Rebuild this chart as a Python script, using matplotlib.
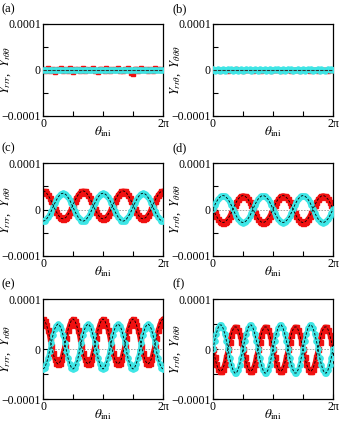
import numpy as np
import matplotlib.pyplot as plt

plt.rcParams['font.family'] = ['Liberation Serif', 'DejaVu Serif']
plt.rcParams['mathtext.fontset'] = 'stix'

# values in units of 1e-5, sampled every 5 degrees of theta_ini (73 points)
red_a = [0.2, -0.3, 0.1, 0.4, -0.2, 0.0, 0.3, -0.4, 0.1, 0.2, -0.1, 0.5, -0.3, 0.0, 0.2, -0.2, 0.4, 0.1, -0.5, 0.2,
         0.0, 0.3, -0.2, 0.1, 0.4, -0.3, 0.2, 0.0, -0.1, 0.3, 0.5, -0.2, 0.1, -0.4, 0.2, 0.3, 0.0, -0.3, 0.4, 0.1,
         -0.2, 0.2, 0.0, 0.3, -0.1, 0.4, -0.2, 0.1, -0.3, 0.2, 0.0, 0.5, -0.1, -0.6, -0.8, 0.2, 0.3, -0.2, 0.1, 0.4,
         -0.1, 0.0, 0.3, -0.3, 0.2, 0.1, -0.2, 0.4, 0.0, 0.2, -0.1, 0.3, 0.1]
cyan_a = [0.0, 0.1, 0.0, -0.1, 0.0, 0.1, 0.0, 0.0, -0.1, 0.0, 0.1, 0.0, 0.0, -0.1, 0.1, 0.0, 0.0, 0.1, -0.1, 0.0,
          0.0, 0.1, 0.0, -0.1, 0.0, 0.0, 0.1, 0.0, -0.1, 0.0, 0.1, 0.0, 0.0, -0.1, 0.0, 0.1, 0.0, 0.0, 0.1, -0.1,
          0.0, 0.0, 0.1, 0.0, -0.1, 0.0, 0.1, 0.0, 0.0, -0.1, 0.0, 0.1, 0.0, 0.0, -0.1, 0.1, 0.0, 0.0, 0.1, -0.1,
          0.0, 0.0, 0.1, 0.0, -0.1, 0.0, 0.1, 0.0, 0.0, -0.1, 0.0, 0.1, 0.0]
red_b = [0.0, -0.1, 0.1, 0.0, -0.2, 0.1, 0.0, -0.1, 0.1, -0.2, 0.0, 0.1, -0.1, 0.0, 0.2, -0.1, 0.0, 0.1, -0.2, 0.0,
         0.1, -0.1, 0.0, 0.1, -0.2, 0.0, 0.1, -0.1, 0.0, -0.2, 0.1, 0.0, -0.1, 0.1, 0.0, -0.2, 0.1, 0.0, -0.1, 0.0,
         0.1, -0.2, 0.0, 0.1, -0.1, 0.0, 0.1, -0.2, 0.0, -0.1, 0.1, 0.0, -0.2, 0.0, 0.1, -0.1, 0.0, 0.1, -0.2, 0.0,
         0.1, -0.1, 0.0, -0.2, 0.1, 0.0, -0.1, 0.1, 0.0, -0.2, 0.0, 0.1, 0.0]
cyan_b = [0.2, -0.3, 0.1, 0.3, -0.2, 0.0, 0.2, -0.3, 0.1, 0.3, -0.1, 0.2, -0.2, 0.0, 0.3, -0.3, 0.1, 0.2, -0.2, 0.0,
          0.3, -0.1, 0.2, -0.3, 0.0, 0.2, 0.1, -0.2, 0.3, -0.1, 0.0, 0.2, -0.3, 0.1, 0.3, -0.2, 0.0, 0.2, -0.1, 0.3,
          -0.3, 0.1, 0.2, -0.2, 0.0, 0.3, -0.1, 0.2, -0.3, 0.1, 0.0, 0.3, -0.2, 0.1, 0.2, -0.3, 0.0, 0.2, -0.1, 0.3,
          -0.2, 0.1, 0.0, 0.3, -0.3, 0.2, 0.1, -0.2, 0.0, 0.3, -0.1, 0.2, 0.1]
red_c = [4.0, 3.9, 3.6, 3.1, 2.5, 1.8, 1.0, 0.2, -0.5, -1.1, -1.6, -1.9, -2.0, -1.9, -1.6, -1.1, -0.5, 0.2, 1.0, 1.8,
         2.5, 3.1, 3.6, 3.9, 4.0, 3.9, 3.6, 3.1, 2.5, 1.8, 1.0, 0.2, -0.5, -1.1, -1.6, -1.9, -2.0, -1.9, -1.6, -1.1,
         -0.5, 0.2, 1.0, 1.8, 2.5, 3.1, 3.6, 3.9, 4.0, 3.9, 3.6, 3.1, 2.5, 1.8, 1.0, 0.2, -0.5, -1.1, -1.6, -1.9,
         -2.0, -1.9, -1.6, -1.1, -0.5, 0.2, 1.0, 1.8, 2.5, 3.1, 3.6, 3.9, 4.0]
cyan_c = [-2.5, -2.4, -2.1, -1.6, -1.0, -0.3, 0.5, 1.3, 2.0, 2.6, 3.1, 3.4, 3.5, 3.4, 3.1, 2.6, 2.0, 1.3, 0.5, -0.3,
          -1.0, -1.6, -2.1, -2.4, -2.5, -2.4, -2.1, -1.6, -1.0, -0.3, 0.5, 1.3, 2.0, 2.6, 3.1, 3.4, 3.5, 3.4, 3.1, 2.6,
          2.0, 1.3, 0.5, -0.3, -1.0, -1.6, -2.1, -2.4, -2.5, -2.4, -2.1, -1.6, -1.0, -0.3, 0.5, 1.3, 2.0, 2.6, 3.1, 3.4,
          3.5, 3.4, 3.1, 2.6, 2.0, 1.3, 0.5, -0.3, -1.0, -1.6, -2.1, -2.4, -2.5]
red_d = [0.1, -0.7, -1.4, -2.0, -2.4, -2.7, -2.8, -2.7, -2.4, -2.0, -1.4, -0.7, 0.1, 0.9, 1.6, 2.2, 2.6, 2.9, 3.0, 2.9,
         2.6, 2.2, 1.6, 0.9, 0.1, -0.7, -1.4, -2.0, -2.4, -2.7, -2.8, -2.7, -2.4, -2.0, -1.4, -0.7, 0.1, 0.9, 1.6, 2.2,
         2.6, 2.9, 3.0, 2.9, 2.6, 2.2, 1.6, 0.9, 0.1, -0.7, -1.4, -2.0, -2.4, -2.7, -2.8, -2.7, -2.4, -2.0, -1.4, -0.7,
         0.1, 0.9, 1.6, 2.2, 2.6, 2.9, 3.0, 2.9, 2.6, 2.2, 1.6, 0.9, 0.1]
cyan_d = [0.1, 0.9, 1.6, 2.2, 2.6, 2.9, 3.0, 2.9, 2.6, 2.2, 1.6, 0.9, 0.1, -0.7, -1.4, -2.0, -2.4, -2.7, -2.8, -2.7,
          -2.4, -2.0, -1.4, -0.7, 0.1, 0.9, 1.6, 2.2, 2.6, 2.9, 3.0, 2.9, 2.6, 2.2, 1.6, 0.9, 0.1, -0.7, -1.4, -2.0,
          -2.4, -2.7, -2.8, -2.7, -2.4, -2.0, -1.4, -0.7, 0.1, 0.9, 1.6, 2.2, 2.6, 2.9, 3.0, 2.9, 2.6, 2.2, 1.6, 0.9,
          0.1, -0.7, -1.4, -2.0, -2.4, -2.7, -2.8, -2.7, -2.4, -2.0, -1.4, -0.7, 0.1]
red_e = [6.0, 5.7, 4.9, 3.8, 2.3, 0.7, -0.8, -2.0, -2.7, -3.0, -2.7, -2.0, -0.8, 0.7, 2.3, 3.8, 4.9, 5.7,
         6.0, 5.7, 4.9, 3.8, 2.3, 0.7, -0.8, -2.0, -2.7, -3.0, -2.7, -2.0, -0.8, 0.7, 2.3, 3.8, 4.9, 5.7,
         6.0, 5.7, 4.9, 3.8, 2.3, 0.7, -0.8, -2.0, -2.7, -3.0, -2.7, -2.0, -0.8, 0.7, 2.3, 3.8, 4.9, 5.7,
         6.0, 5.7, 4.9, 3.8, 2.3, 0.7, -0.8, -2.0, -2.7, -3.0, -2.7, -2.0, -0.8, 0.7, 2.3, 3.8, 4.9, 5.7, 6.0]
cyan_e = [-4.0, -3.7, -2.9, -1.8, -0.3, 1.3, 2.8, 4.0, 4.7, 5.0, 4.7, 4.0, 2.8, 1.3, -0.3, -1.8, -2.9, -3.7,
          -4.0, -3.7, -2.9, -1.8, -0.3, 1.3, 2.8, 4.0, 4.7, 5.0, 4.7, 4.0, 2.8, 1.3, -0.3, -1.8, -2.9, -3.7,
          -4.0, -3.7, -2.9, -1.8, -0.3, 1.3, 2.8, 4.0, 4.7, 5.0, 4.7, 4.0, 2.8, 1.3, -0.3, -1.8, -2.9, -3.7,
          -4.0, -3.7, -2.9, -1.8, -0.3, 1.3, 2.8, 4.0, 4.7, 5.0, 4.7, 4.0, 2.8, 1.3, -0.3, -1.8, -2.9, -3.7, -4.0]
red_f = [0.0, -1.5, -2.9, -3.9, -4.4, -4.4, -3.9, -2.9, -1.5, 0.0, 1.5, 2.9, 3.9, 4.4, 4.4, 3.9, 2.9, 1.5,
         0.0, -1.5, -2.9, -3.9, -4.4, -4.4, -3.9, -2.9, -1.5, 0.0, 1.5, 2.9, 3.9, 4.4, 4.4, 3.9, 2.9, 1.5,
         0.0, -1.5, -2.9, -3.9, -4.4, -4.4, -3.9, -2.9, -1.5, 0.0, 1.5, 2.9, 3.9, 4.4, 4.4, 3.9, 2.9, 1.5,
         0.0, -1.5, -2.9, -3.9, -4.4, -4.4, -3.9, -2.9, -1.5, 0.0, 1.5, 2.9, 3.9, 4.4, 4.4, 3.9, 2.9, 1.5, 0.0]
cyan_f = [0.0, 1.7, 3.1, 4.2, 4.8, 4.8, 4.2, 3.1, 1.7, 0.0, -1.7, -3.1, -4.2, -4.8, -4.8, -4.2, -3.1, -1.7,
          0.0, 1.7, 3.1, 4.2, 4.8, 4.8, 4.2, 3.1, 1.7, 0.0, -1.7, -3.1, -4.2, -4.8, -4.8, -4.2, -3.1, -1.7,
          0.0, 1.7, 3.1, 4.2, 4.8, 4.8, 4.2, 3.1, 1.7, 0.0, -1.7, -3.1, -4.2, -4.8, -4.8, -4.2, -3.1, -1.7,
          0.0, 1.7, 3.1, 4.2, 4.8, 4.8, 4.2, 3.1, 1.7, 0.0, -1.7, -3.1, -4.2, -4.8, -4.8, -4.2, -3.1, -1.7, 0.0]

theta = np.linspace(0, 2 * np.pi, len(red_a))
scale = 1e-5

panels = ['(a)', '(b)', '(c)', '(d)', '(e)', '(f)']
reds = [red_a, red_b, red_c, red_d, red_e, red_f]
cyans = [cyan_a, cyan_b, cyan_c, cyan_d, cyan_e, cyan_f]
fitted = [False, False, True, True, True, True]
ylabels = ['$Y_{rrr}$,  $Y_{r\\theta\\theta}$', '$Y_{rr\\theta}$,  $Y_{\\theta\\theta\\theta}$']

W, H = 339, 422
rows = [(24, 116), (163, 256), (299, 399)]   # top, bottom in px
cols = [43, 213]
axw = 120
red_col = '#f01010'
cyan_col = '#3ee6e6'

fig = plt.figure(figsize=(W / 100, H / 100), dpi=100)

for i in range(6):
    r, c = divmod(i, 2)
    top, bot = rows[r]
    ax = fig.add_axes([cols[c] / W, (H - bot) / H, axw / W, (bot - top) / H])

    red = np.array(reds[i]) * scale
    cyan = np.array(cyans[i]) * scale

    ax.axhline(0, color='#999999', lw=0.6, ls=(0, (2, 1.5)), zorder=1)
    if fitted[i]:
        ax.plot(theta, red, ls='-', lw=3.2, marker='s', ms=3.6, color=red_col, mec=red_col, zorder=2)
        ax.plot(theta, cyan, ls='-', lw=3.0, marker='o', ms=3.8, color=cyan_col, mec=cyan_col, zorder=3)
        ax.plot(theta, red, color='black', lw=0.6, ls=(0, (3, 2)), zorder=4)
        ax.plot(theta, cyan, color='black', lw=0.6, ls=(0, (3, 2)), zorder=4)
    else:
        ax.plot(theta, red, ls='none', marker='s', ms=3.2, color=red_col, mec=red_col, zorder=2)
        ax.plot(theta, cyan, ls='-', lw=2.8, marker='o', ms=3.6, color=cyan_col, mec=cyan_col, zorder=3)
        ax.plot(theta, np.zeros_like(theta), color='#333333', lw=0.8, ls=(0, (3, 1)), zorder=4)

    ax.set_xlim(0, 2 * np.pi)
    ax.set_ylim(-1e-4, 1e-4)
    ax.set_xticks([0, np.pi / 2, np.pi, 3 * np.pi / 2, 2 * np.pi])
    ax.set_xticklabels(['0', '', '', '', '2\u03c0'])
    ax.set_yticks([-1e-4, -5e-5, 0, 5e-5, 1e-4])
    ax.set_yticklabels(['\u22120.0001', '', '0', '', '0.0001'])
    ax.tick_params(direction='in', length=3.5, width=0.8, labelsize=8.5, pad=1.5)
    for s in ax.spines.values():
        s.set_linewidth(0.9)

    ax.set_xlabel('$\\theta_{\\rm ini}$', fontsize=9.5, labelpad=-4)
    ax.set_ylabel(ylabels[c], fontsize=9)
    ax.yaxis.set_label_coords(-0.25, 0.5)

    fig.text((cols[c] - 41) / W, 1 - (top - 21) / H, panels[i], fontsize=9, va='top', ha='left')

fig.savefig('out.png', dpi=100)
